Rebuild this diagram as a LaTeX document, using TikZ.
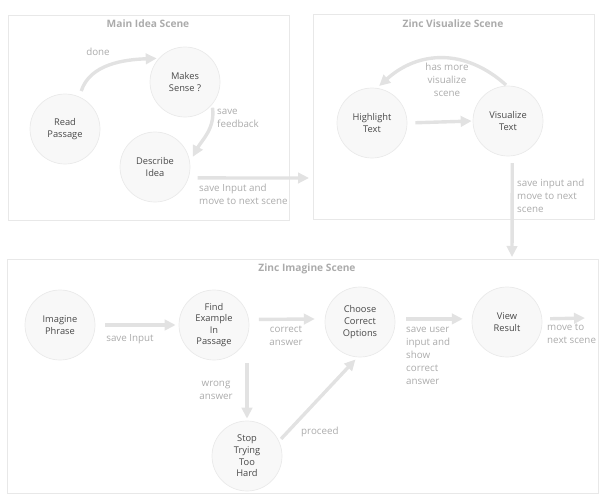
\documentclass[tikz,border=0pt]{standalone}
\usepackage{fontspec}
\setmainfont{Open Sans}
\usetikzlibrary{arrows.meta, calc}
\definecolor{boxline}{HTML}{E8E8E8}
\definecolor{statefill}{HTML}{F8F8F8}
\definecolor{stateline}{HTML}{EAEAEA}
\definecolor{flowgray}{HTML}{E2E2E2}
\definecolor{lblgray}{HTML}{ABABAB}
\definecolor{txtgray}{HTML}{484848}

\begin{document}
\begin{tikzpicture}[x=1pt, y=-1pt,
	scenebox/.style={draw=boxline, line width=0.7pt},
	scenetitle/.style={text=lblgray, font=\fontsize{10.2}{12}\selectfont\bfseries},
	state/.style={circle, draw=stateline, fill=statefill, line width=0.7pt,
		minimum size=70pt, inner sep=0pt, align=center, text=txtgray,
		font=\fontsize{9.3}{11.6}\selectfont},
	lbl/.style={text=lblgray, inner sep=0pt, font=\fontsize{9.8}{13}\selectfont},
	flow/.style={draw=flowgray, line width=3.4pt,
		-{Triangle[length=11pt, width=10.5pt]}, shorten >=1pt}]
	\useasboundingbox (0,0) rectangle (611,501);
	% scenes
	\draw [scenebox] (8,15) rectangle (289,220);
	\draw [scenebox] (313,14) rectangle (594,219);
	\draw [scenebox] (7,259) rectangle (598,493);
	\node [scenetitle] (tmain) at (148,24) {Main Idea Scene};
	\node [scenetitle] (tvis) at (453,24) {Zinc Visualize Scene};
	\node [scenetitle] (timg) at (307,269) {Zinc Imagine Scene};
	% states
	\node [state] (rp) at (65,129) {Read\\Passage};
	\node [state] (ms) at (185,82) {Makes\\Sense ?};
	\node [state] (di) at (155,167) {Describe\\Idea};
	\node [state] (ht) at (372,123) {Highlight\\Text};
	\node [state] (vt) at (508,121) {Visualize\\Text};
	\node [state] (ip) at (60,325) {Imagine\\Phrase};
	\node [state] (fe) at (214,325) {Find\\Example\\In\\Passage};
	\node [state] (st) at (247,456) {Stop\\Trying\\Too\\Hard};
	\node [state] (cc) at (360,322) {Choose\\Correct\\Options};
	\node [state] (vr) at (507,322) {View\\Result};
	\coordinate (mvout) at (310,178);
	\coordinate (imgin) at (512,258);
	\coordinate (vrout) at (586,318);
	% main idea scene
	\draw [flow, shorten <=6pt, shorten >=2pt] (rp.66) to[out=72, in=182] (ms.138);
	\draw [flow, shorten <=3pt, shorten >=6pt] (ms.-40) to[out=-82, in=62] (di.8);
	\draw [flow, shorten <=9pt] (di.-18) -- (mvout);
	\path (98,52) node [lbl] (ldone) {done};
	\path (217,109) node [lbl, anchor=north west, align=left] (lsfb) {save\\feedback};
	\path (199,184) node [lbl, anchor=north west, align=left] (lmv) {save Input and\\move to next scene};
	% visualize scene
	\draw [flow, shorten <=8pt] (ht.east) -- (vt.west);
	\draw [flow, shorten <=1pt, shorten >=3pt] (vt.92) to[out=138, in=42, looseness=1.1] (ht.82);
	\draw [flow, shorten <=7pt] (vt.-83) -- (imgin);
	\path (447,63) node [lbl, anchor=north, align=center] (lmore) {has more\\visualize\\scene};
	\path (517,179) node [lbl, anchor=north west, align=left] (lnext) {save input and\\move to next\\scene};
	% imagine scene
	\draw [flow, shorten <=10pt, shorten >=3pt] (ip.east) -- (fe.west);
	\draw [flow, shorten <=10pt, shorten >=10pt] (fe.9) -- (cc.175);
	\draw [flow, shorten <=3pt, shorten >=2pt] (st.north |- fe.south) -- (st.north);
	\draw [flow, shorten <=3pt, shorten >=3pt] (st.25) -- (cc.266);
	\draw [flow, shorten <=11pt, shorten >=9pt] (cc.5) -- (vr.175);
	\draw [flow, shorten <=8pt] (vr.5) -- (vrout);
	\path (130,339) node [lbl] (lsi) {save Input};
	\path (286,326) node [lbl, anchor=north, align=center] (lca) {correct\\answer};
	\path (216,381) node [lbl, anchor=north, align=center] (lwa) {wrong\\answer};
	\path (301,432) node [lbl, anchor=west] (lpr) {proceed};
	\path (406,327) node [lbl, anchor=north west, align=left] (lsu) {save user\\input and\\show\\correct\\answer};
	\path (547,324) node [lbl, anchor=north west, align=left] (lmn) {move to\\next scene};
\end{tikzpicture}
\end{document}
